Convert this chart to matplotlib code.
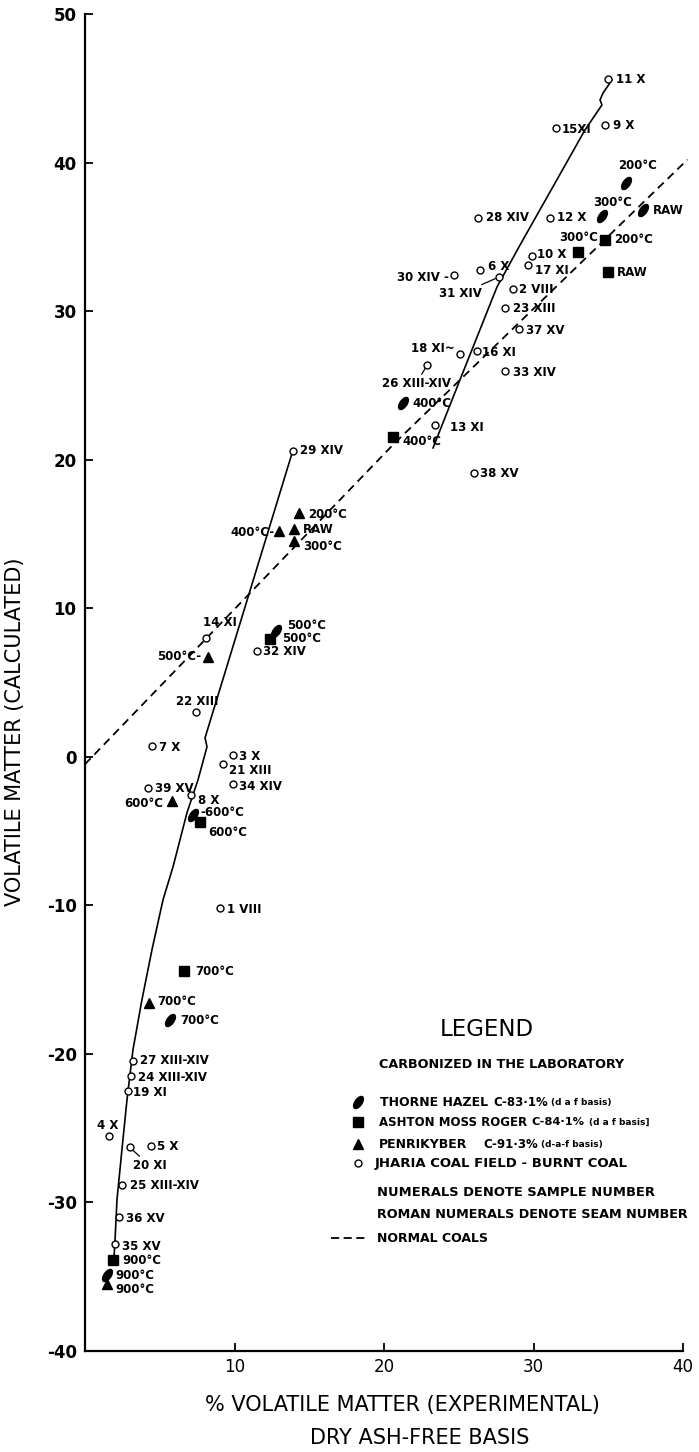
import matplotlib
matplotlib.use("Agg")
import matplotlib.pyplot as plt
from matplotlib.lines import Line2D
from matplotlib.path import Path
from matplotlib.transforms import Affine2D

plt.rcParams["font.family"] = "DejaVu Sans"
plt.rcParams["axes.unicode_minus"] = False

# Jharia coal field - burnt coal (sample number + seam number)
jharia_labels = ["11 X", "15XI", "9 X", "28 XIV", "12 X", "10 X", "17 XI", "6 X", "30 XIV -", "31 XIV",
                 "2 VIII", "23 XIII", "37 XV", "18 XI~", "16 XI", "26 XIII-XIV", "33 XIV", "13 XI", "38 XV",
                 "29 XIV", "14 XI", "32 XIV", "22 XIII", "7 X", "3 X", "21 XIII", "34 XIV", "39 XV", "8 X",
                 "1 VIII", "27 XIII-XIV", "24 XIII-XIV", "19 XI", "4 X", "20 XI", "5 X", "25 XIII-XIV",
                 "36 XV", "35 XV"]
jharia_x = [35.0, 31.5, 34.8, 26.3, 31.1, 29.9, 29.6, 26.4, 24.7, 27.7,
            28.6, 28.1, 29.0, 25.1, 26.2, 22.9, 28.1, 23.4, 26.0,
            13.9, 8.1, 11.5, 7.4, 4.5, 9.9, 9.2, 9.9, 4.2, 7.1,
            9.0, 3.2, 3.1, 2.9, 1.6, 3.0, 4.4, 2.5, 2.3, 2.0]
jharia_y = [45.6, 42.3, 42.5, 36.3, 36.3, 33.7, 33.1, 32.8, 32.4, 32.3,
            31.5, 30.2, 28.8, 27.1, 27.3, 26.4, 26.0, 22.3, 19.1,
            20.6, 8.0, 7.1, 3.0, 0.7, 0.1, -0.5, -1.8, -2.1, -2.6,
            -10.2, -20.5, -21.5, -22.5, -25.5, -26.3, -26.2, -28.8, -31.0, -32.8]

# carbonized in the laboratory: raw, then carbonisation temperature
lab_temps = ["RAW", "200°C", "300°C", "400°C", "500°C", "600°C", "700°C", "900°C"]
thorne_x = [37.3, 36.2, 34.6, 21.3, 12.8, 7.2, 5.7, 1.5]
thorne_y = [36.8, 38.6, 36.4, 23.8, 8.5, -3.9, -17.7, -34.9]
ashton_x = [35.0, 34.8, 33.0, 20.6, 12.4, 7.7, 6.6, 1.9]
ashton_y = [32.6, 34.8, 34.0, 21.5, 7.9, -4.4, -14.4, -33.9]
penri_x = [14.0, 14.3, 14.0, 13.0, 8.2, 5.8, 4.3, 1.5]
penri_y = [15.3, 16.4, 14.5, 15.2, 6.7, -3.0, -16.6, -35.5]

# hand drawn trend curves
burnt_lower_x = [13.9, 8.03, 8.16, 7.56, 6.82, 5.89, 5.22, 4.48, 3.81, 3.21, 2.81, 2.47, 2.14, 2.01, 1.94]
burnt_lower_y = [20.6, 1.28, 0.67, -1.55, -3.77, -7.40, -9.62, -12.99, -16.35, -19.72, -23.08, -26.45,
                 -29.81, -32.50, -33.71]
burnt_upper_x = [23.28, 25.08, 27.56, 29.10, 32.31, 33.44, 34.58, 34.45, 34.65, 35.25]
burnt_upper_y = [20.79, 25.37, 31.63, 34.45, 40.17, 42.19, 43.88, 44.21, 44.68, 45.56]
normal_x = [0.0, 20.6, 40.3]
normal_y = [-0.5, 21.0, 40.2]

W, H = 699, 1452


def fx(px):
    return px / W


def fy(py):
    return 1 - py / H


# label placement in pixels: (dx, dy down, ha, leader line)
jharia_offsets = [(8, 0, "left", False), (6, 1, "left", False), (8, 0, "left", False), (8, 0, "left", False),
                  (7, 0, "left", False), (5, -2, "left", False), (7, 5, "left", False), (8, -3, "left", False),
                  (-5, 2, "right", False), (-17, 17, "right", True), (6, 1, "left", False), (8, 0, "left", False),
                  (7, 2, "left", False), (-5, -6, "right", False), (5, 1, "left", False),
                  (-11, 19, "center", True), (8, 2, "left", False), (15, 2, "left", False), (6, 0, "left", False),
                  (7, 0, "left", False), (-3, -15, "left", False), (6, 0, "left", False),
                  (2, -11, "center", False), (7, 1, "left", False), (6, 1, "left", False), (6, 6, "left", False),
                  (6, 3, "left", False), (7, 1, "left", False), (7, 5, "left", False), (7, 1, "left", False),
                  (7, -1, "left", False), (7, 1, "left", False), (5, 1, "left", False),
                  (-1, -10, "center", False), (3, 18, "left", True), (6, 1, "left", False),
                  (8, 1, "left", False), (7, 1, "left", False), (7, 2, "left", False)]
thorne_texts = ["RAW", "200°C", "300°C", "400°C", "500°C", "-600°C", "700°C", "900°C"]
thorne_offsets = [(10, 0, "left", False), (-8, -18, "left", False), (-9, -14, "left", False),
                  (9, 0, "left", False), (11, -5, "left", False), (8, -2, "left", False),
                  (10, 1, "left", False), (8, 0, "left", False)]
ashton_texts = lab_temps
ashton_offsets = [(9, 0, "left", False), (9, 0, "left", False), (-19, -14, "left", False),
                  (9, 4, "left", False), (12, -1, "left", False), (8, 10, "left", False),
                  (12, 1, "left", False), (9, 0, "left", False)]
penri_texts = ["RAW", "200°C", "300°C", "400°C-", "500°C-", "600°C", "700°C", "900°C"]
penri_offsets = [(9, 0, "left", False), (9, 1, "left", False), (9, 5, "left", False),
                 (-5, 2, "right", False), (-6, -1, "right", False), (-8, 2, "right", False),
                 (8, -2, "left", False), (8, 5, "left", False)]

leaf = Path.unit_circle().transformed(Affine2D().scale(0.5, 1.0).rotate_deg(-35))

fig = plt.figure(figsize=(W / 100, H / 100), dpi=100)
ax = fig.add_axes([fx(85), fy(1351), 598 / W, 1337 / H])

ax.plot(burnt_lower_x, burnt_lower_y, color="black", lw=1.2)
ax.plot(burnt_upper_x, burnt_upper_y, color="black", lw=1.2)
normal_line, = ax.plot(normal_x, normal_y, color="black", lw=1.3, clip_on=False)
normal_line.set_dashes([4.5, 3])

ax.plot(jharia_x, jharia_y, "o", ms=5, mfc="white", mec="black", mew=1.0, ls="none", zorder=3)
ax.plot(thorne_x, thorne_y, marker=leaf, ms=9, color="black", ls="none", zorder=3)
ax.plot(ashton_x, ashton_y, "s", ms=6.5, color="black", ls="none", zorder=3)
ax.plot(penri_x, penri_y, "^", ms=7, color="black", ls="none", zorder=3)


def put_labels(xs, ys, texts, offsets):
    for x, y, t, (dx, dy, ha, lead) in zip(xs, ys, texts, offsets):
        kw = {}
        if lead:
            kw["arrowprops"] = dict(arrowstyle="-", lw=0.9, color="black", shrinkA=0, shrinkB=3)
        ax.annotate(t, (x, y), xytext=(dx * 0.72, -dy * 0.72), textcoords="offset points",
                    ha=ha, va="center", fontsize=8.5, fontweight="bold", **kw)


put_labels(jharia_x, jharia_y, jharia_labels, jharia_offsets)
put_labels(thorne_x, thorne_y, thorne_texts, thorne_offsets)
put_labels(ashton_x, ashton_y, ashton_texts, ashton_offsets)
put_labels(penri_x, penri_y, penri_texts, penri_offsets)

ax.set_xlim(0, 40)
ax.set_ylim(-40, 50)
ax.set_xticks([10, 20, 30, 40])
ax.set_yticks(range(-40, 51, 10))
ax.tick_params(axis="both", direction="in", length=6, width=1.3)
ax.tick_params(axis="x", labelsize=12, pad=5)
ax.tick_params(axis="y", labelsize=12, pad=6)
for lab in ax.get_yticklabels():
    lab.set_fontweight("bold")
for side in ["top", "right"]:
    ax.spines[side].set_visible(False)
for side in ["left", "bottom"]:
    ax.spines[side].set_linewidth(1.6)

fig.text(fx(15), fy(732), "VOLATILE MATTER (CALCULATED)", rotation=90, ha="center", va="center",
         fontsize=15)
fig.text(fx(402), fy(1405), "% VOLATILE MATTER (EXPERIMENTAL)", ha="center", va="center", fontsize=15)
fig.text(fx(420), fy(1438), "DRY ASH-FREE BASIS", ha="center", va="center", fontsize=15)

# legend, drawn by hand like the original
fig.text(fx(487), fy(1030), "LEGEND", ha="center", va="center", fontsize=16.5)
fig.text(fx(379), fy(1065), "CARBONIZED IN THE LABORATORY", ha="left", va="center", fontsize=9.2,
         fontweight="bold")
rows = [(1102, leaf, 9, "black"), (1122, "s", 6.5, "black"), (1144, "^", 7, "black"), (1163, "o", 5, "white")]
for py, mk, ms, fc in rows:
    fig.add_artist(Line2D([fx(358)], [fy(py)], marker=mk, ms=ms, mfc=fc, mec="black", mew=1.0,
                          ls="none", transform=fig.transFigure))
legend_rows = [(380, 1102, "THORNE HAZEL", 9), (493, 1102, "C-83·1%", 8.5),
               (379, 1122, "ASHTON MOSS ROGER", 8.5), (531, 1122, "C-84·1%", 8.2),
               (379, 1144, "PENRIKYBER", 9), (483, 1144, "C-91·3%", 8.5),
               (375, 1163, "JHARIA COAL FIELD - BURNT COAL", 9.5),
               (377, 1193, "NUMERALS DENOTE SAMPLE NUMBER", 9.4),
               (377, 1214, "ROMAN NUMERALS DENOTE SEAM NUMBER", 9.2),
               (377, 1238, "NORMAL COALS", 9)]
for px, py, txt, size in legend_rows:
    fig.text(fx(px), fy(py), txt, ha="left", va="center", fontsize=size, fontweight="bold")
for px, py, txt in [(551, 1102, "(d a f basis)"), (589, 1122, "(d a f basis]"), (541, 1144, "(d-a-f basis)")]:
    fig.text(fx(px), fy(py), txt, ha="left", va="center", fontsize=6.5, fontweight="bold")
legend_dash = Line2D([fx(331), fx(368)], [fy(1238), fy(1238)], color="black", lw=1.3,
                     transform=fig.transFigure)
legend_dash.set_dashes([4.5, 2.5])
fig.add_artist(legend_dash)

fig.savefig("out.png", dpi=100)
